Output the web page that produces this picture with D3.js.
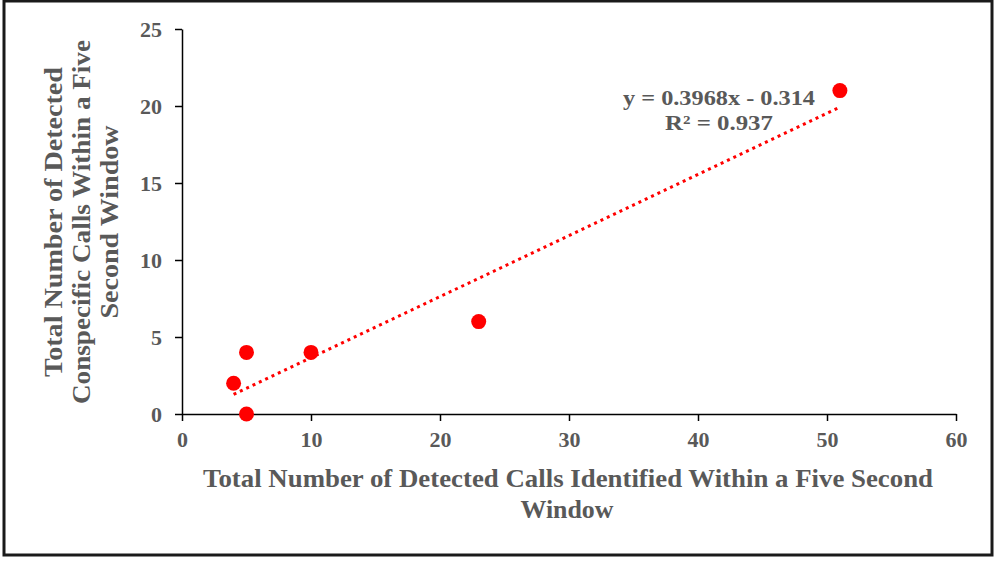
<!DOCTYPE html>
<meta charset="utf-8">
<style>
    html, body { margin: 0; padding: 0; background: #fff; }
    svg { display: block; font-family: "Liberation Serif", "Times New Roman", serif; font-weight: bold; }
</style>
<svg id="chart" width="996" height="561"></svg>
<script src="https://d3js.org/d3.v7.min.js"></script>
<script>
    // data
    const callsTotal = [4, 5, 5, 10, 23, 51];
    const callsConspecific = [2, 4, 0, 4, 6, 21];
    const xTicks = [0, 10, 20, 30, 40, 50, 60];
    const yTicks = [0, 5, 10, 15, 20, 25];
    const xTitle = ["Total Number of Detected Calls Identified Within a Five Second", "Window"];
    const yTitle = ["Total Number of Detected", "Conspecific Calls Within a Five", "Second Window"];

    const textGrey = "#595959";
    const svg = d3.select("#chart");

    // frame round the whole chart
    svg.append("rect")
        .attr("x", 4).attr("y", 1)
        .attr("width", 988).attr("height", 554)
        .attr("fill", "#fff")
        .attr("stroke", "#1a1a1a")
        .attr("stroke-width", 3);

    const x = d3.scaleLinear().domain([0, 60]).range([182, 956]);
    const y = d3.scaleLinear().domain([0, 25]).range([414, 29]);

    // axes
    const xAxis = svg.append("g")
        .attr("transform", `translate(0,${y(0)})`)
        .call(d3.axisBottom(x).tickValues(xTicks).tickSize(7).tickPadding(10).tickSizeOuter(0));
    const yAxis = svg.append("g")
        .attr("transform", `translate(${x(0)},0)`)
        .call(d3.axisLeft(y).tickValues(yTicks).tickSize(7).tickPadding(13).tickSizeOuter(0));

    [xAxis, yAxis].forEach(g => {
        g.select(".domain").attr("stroke", "#000").attr("stroke-width", 1.5);
        g.selectAll(".tick line").attr("stroke", "#000").attr("stroke-width", 1.5);
        g.selectAll(".tick text")
            .attr("fill", textGrey)
            .style("font-size", "22px")
            .style("font-family", "'Liberation Serif', serif")
            .style("font-weight", "bold");
    });
    yAxis.selectAll(".tick text").attr("dy", "0.35em");

    // least squares trendline over the data range
    const n = callsTotal.length;
    const mx = d3.mean(callsTotal), my = d3.mean(callsConspecific);
    let sxy = 0, sxx = 0, syy = 0;
    for (let i = 0; i < n; i++) {
        sxy += (callsTotal[i] - mx) * (callsConspecific[i] - my);
        sxx += (callsTotal[i] - mx) ** 2;
        syy += (callsConspecific[i] - my) ** 2;
    }
    const slope = sxy / sxx;
    const intercept = my - slope * mx;
    const r2 = (sxy * sxy) / (sxx * syy);
    const xExt = d3.extent(callsTotal);

    svg.append("line")
        .attr("x1", x(xExt[0])).attr("y1", y(slope * xExt[0] + intercept))
        .attr("x2", x(xExt[1])).attr("y2", y(slope * xExt[1] + intercept))
        .attr("stroke", "#ff0000")
        .attr("stroke-width", 3)
        .attr("stroke-dasharray", "3,4");

    // points
    svg.selectAll("circle.pt")
        .data(callsTotal.map((d, i) => [d, callsConspecific[i]]))
        .join("circle")
        .attr("class", "pt")
        .attr("cx", d => x(d[0]))
        .attr("cy", d => y(d[1]))
        .attr("r", 7.5)
        .attr("fill", "#ff0000");

    // equation label
    const eq = svg.append("g").attr("fill", textGrey).style("font-size", "22px").attr("text-anchor", "middle");
    eq.append("text").attr("x", 719).attr("y", 105)
        .attr("textLength", 192).attr("lengthAdjust", "spacingAndGlyphs")
        .text(`y = ${slope.toFixed(4)}x - ${Math.abs(intercept).toFixed(3)}`);
    eq.append("text").attr("x", 719).attr("y", 130)
        .attr("textLength", 108).attr("lengthAdjust", "spacingAndGlyphs")
        .text(`R² = ${r2.toFixed(3)}`);

    // x axis title
    const xt = svg.append("g").attr("fill", textGrey).style("font-size", "26px").attr("text-anchor", "middle");
    xt.append("text").attr("x", 568).attr("y", 487)
        .attr("textLength", 730).attr("lengthAdjust", "spacingAndGlyphs")
        .text(xTitle[0]);
    xt.append("text").attr("x", 567).attr("y", 518)
        .attr("textLength", 93).attr("lengthAdjust", "spacingAndGlyphs")
        .text(xTitle[1]);

    // y axis title, rotated
    const yLens = [310, 364, 193];
    const yt = svg.append("g").attr("fill", textGrey).style("font-size", "25px").attr("text-anchor", "middle");
    yTitle.forEach((t, i) => {
        yt.append("text")
            .attr("transform", `translate(${62 + i * 28},222) rotate(-90)`)
            .attr("textLength", yLens[i]).attr("lengthAdjust", "spacingAndGlyphs")
            .text(t);
    });
</script>
